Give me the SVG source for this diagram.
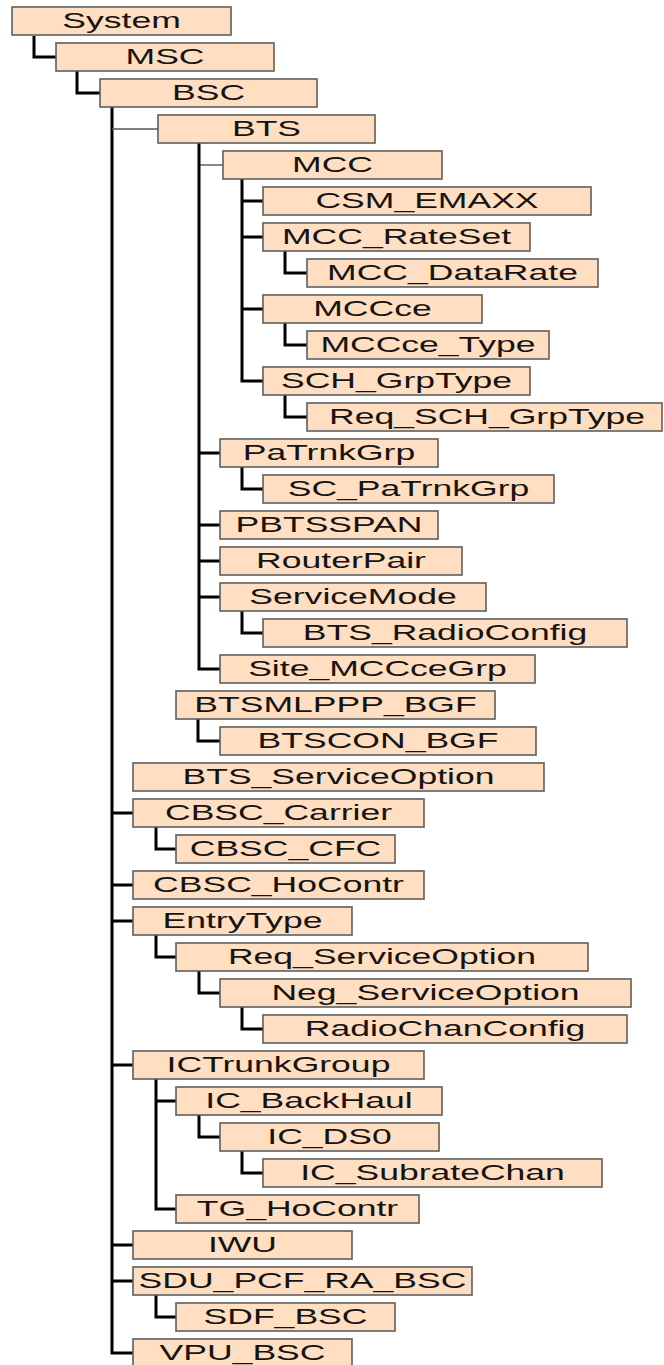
<svg xmlns="http://www.w3.org/2000/svg" width="664" height="1365" viewBox="0 0 664 1365">
  <style>
    .box rect { fill: #FFDEC1; stroke: #5e5e5e; stroke-width: 1.6; }
    .box text { font-family: "Liberation Sans", Arial, sans-serif; font-size: 22.5px; fill: #141414; text-anchor: middle; }
    .k { fill: none; stroke: #000; stroke-width: 3; stroke-linejoin: miter; stroke-linecap: butt; }
    .t { fill: none; stroke: #555; stroke-width: 1.4; }
  </style>
  <rect width="664" height="1365" fill="#fff"/>

  <!-- tree connectors -->
  <g id="connectors">
    <path class="k" d="M34,36 V57 H56"/>
    <path class="k" d="M77,71 V93 H100"/>
    <path class="k" d="M112,107 V1353 H133 M112,813 H133 M112,885 H133 M112,921 H133 M112,1065 H133 M112,1245 H133 M112,1281 H133"/>
    <path class="t" d="M112,129 H158"/>
    <path class="t" d="M199,165 H223"/>
    <path class="k" d="M199,143 V669 H220 M199,453 H220 M199,525 H220 M199,561 H220 M199,597 H220"/>
    <path class="k" d="M242,179 V381 H263 M242,201 H263 M242,237 H263 M242,309 H263"/>
    <path class="k" d="M285,251 V273 H307"/>
    <path class="k" d="M285,323 V345 H307"/>
    <path class="k" d="M285,395 V417 H307"/>
    <path class="k" d="M242,467 V489 H263"/>
    <path class="k" d="M242,611 V633 H263"/>
    <path class="k" d="M198,719 V741 H220"/>
    <path class="k" d="M156,827 V849 H176"/>
    <path class="k" d="M156,935 V957 H176"/>
    <path class="k" d="M199,971 V993 H220"/>
    <path class="k" d="M242,1007 V1029 H263"/>
    <path class="k" d="M156,1079 V1209 H176 M156,1101 H176"/>
    <path class="k" d="M199,1115 V1137 H220"/>
    <path class="k" d="M242,1151 V1173 H263"/>
    <path class="k" d="M156,1295 V1317 H176"/>
  </g>

  <!-- nodes: each row is 36px apart, boxes 28px tall -->
  <g id="System" class="box"><rect x="12" y="7" width="219" height="28"/><text transform="translate(121.5,28.3) scale(1.58,1)">System</text></g>
  <g id="MSC" class="box"><rect x="56" y="43" width="218" height="28"/><text transform="translate(165,64.3) scale(1.58,1)">MSC</text></g>
  <g id="BSC" class="box"><rect x="100" y="79" width="217" height="28"/><text transform="translate(208.5,100.3) scale(1.58,1)">BSC</text></g>
  <g id="BTS" class="box"><rect x="158" y="115" width="217" height="28"/><text transform="translate(266.5,136.3) scale(1.58,1)">BTS</text></g>
  <g id="MCC" class="box"><rect x="223" y="151" width="219" height="28"/><text transform="translate(332.5,172.3) scale(1.58,1)">MCC</text></g>
  <g id="CSM_EMAXX" class="box"><rect x="263" y="187" width="328" height="28"/><text transform="translate(427,208.3) scale(1.58,1)">CSM_EMAXX</text></g>
  <g id="MCC_RateSet" class="box"><rect x="263" y="223" width="267" height="28"/><text transform="translate(396.5,244.3) scale(1.58,1)">MCC_RateSet</text></g>
  <g id="MCC_DataRate" class="box"><rect x="307" y="259" width="291" height="28"/><text transform="translate(452.5,280.3) scale(1.58,1)">MCC_DataRate</text></g>
  <g id="MCCce" class="box"><rect x="263" y="295" width="219" height="28"/><text transform="translate(372.5,316.3) scale(1.58,1)">MCCce</text></g>
  <g id="MCCce_Type" class="box"><rect x="307" y="331" width="242" height="28"/><text transform="translate(428,352.3) scale(1.58,1)">MCCce_Type</text></g>
  <g id="SCH_GrpType" class="box"><rect x="263" y="367" width="267" height="28"/><text transform="translate(396.5,388.3) scale(1.58,1)">SCH_GrpType</text></g>
  <g id="Req_SCH_GrpType" class="box"><rect x="307" y="403" width="355" height="28"/><text transform="translate(487,424.3) scale(1.58,1)">Req_SCH_GrpType</text></g>
  <g id="PaTrnkGrp" class="box"><rect x="220" y="439" width="218" height="28"/><text transform="translate(329,460.3) scale(1.58,1)">PaTrnkGrp</text></g>
  <g id="SC_PaTrnkGrp" class="box"><rect x="263" y="475" width="291" height="28"/><text transform="translate(408.5,496.3) scale(1.58,1)">SC_PaTrnkGrp</text></g>
  <g id="PBTSSPAN" class="box"><rect x="220" y="511" width="218" height="28"/><text transform="translate(329,532.3) scale(1.58,1)">PBTSSPAN</text></g>
  <g id="RouterPair" class="box"><rect x="220" y="547" width="242" height="28"/><text transform="translate(341,568.3) scale(1.58,1)">RouterPair</text></g>
  <g id="ServiceMode" class="box"><rect x="220" y="583" width="266" height="28"/><text transform="translate(353,604.3) scale(1.58,1)">ServiceMode</text></g>
  <g id="BTS_RadioConfig" class="box"><rect x="263" y="619" width="364" height="28"/><text transform="translate(445,640.3) scale(1.58,1)">BTS_RadioConfig</text></g>
  <g id="Site_MCCceGrp" class="box"><rect x="220" y="655" width="315" height="28"/><text transform="translate(377.5,676.3) scale(1.58,1)">Site_MCCceGrp</text></g>
  <g id="BTSMLPPP_BGF" class="box"><rect x="176" y="691" width="319" height="28"/><text transform="translate(335.5,712.3) scale(1.58,1)">BTSMLPPP_BGF</text></g>
  <g id="BTSCON_BGF" class="box"><rect x="220" y="727" width="316" height="28"/><text transform="translate(378,748.3) scale(1.58,1)">BTSCON_BGF</text></g>
  <g id="BTS_ServiceOption" class="box"><rect x="133" y="763" width="411" height="28"/><text transform="translate(338.5,784.3) scale(1.58,1)">BTS_ServiceOption</text></g>
  <g id="CBSC_Carrier" class="box"><rect x="133" y="799" width="291" height="28"/><text transform="translate(278.5,820.3) scale(1.58,1)">CBSC_Carrier</text></g>
  <g id="CBSC_CFC" class="box"><rect x="176" y="835" width="219" height="28"/><text transform="translate(285.5,856.3) scale(1.58,1)">CBSC_CFC</text></g>
  <g id="CBSC_HoContr" class="box"><rect x="133" y="871" width="291" height="28"/><text transform="translate(278.5,892.3) scale(1.58,1)">CBSC_HoContr</text></g>
  <g id="EntryType" class="box"><rect x="133" y="907" width="219" height="28"/><text transform="translate(242.5,928.3) scale(1.58,1)">EntryType</text></g>
  <g id="Req_ServiceOption" class="box"><rect x="176" y="943" width="412" height="28"/><text transform="translate(382,964.3) scale(1.58,1)">Req_ServiceOption</text></g>
  <g id="Neg_ServiceOption" class="box"><rect x="220" y="979" width="411" height="28"/><text transform="translate(425.5,1000.3) scale(1.58,1)">Neg_ServiceOption</text></g>
  <g id="RadioChanConfig" class="box"><rect x="263" y="1015" width="364" height="28"/><text transform="translate(445,1036.3) scale(1.58,1)">RadioChanConfig</text></g>
  <g id="ICTrunkGroup" class="box"><rect x="133" y="1051" width="291" height="28"/><text transform="translate(278.5,1072.3) scale(1.58,1)">ICTrunkGroup</text></g>
  <g id="IC_BackHaul" class="box"><rect x="176" y="1087" width="266" height="28"/><text transform="translate(309,1108.3) scale(1.58,1)">IC_BackHaul</text></g>
  <g id="IC_DS0" class="box"><rect x="220" y="1123" width="219" height="28"/><text transform="translate(329.5,1144.3) scale(1.58,1)">IC_DS0</text></g>
  <g id="IC_SubrateChan" class="box"><rect x="263" y="1159" width="339" height="28"/><text transform="translate(432.5,1180.3) scale(1.58,1)">IC_SubrateChan</text></g>
  <g id="TG_HoContr" class="box"><rect x="176" y="1195" width="243" height="28"/><text transform="translate(297.5,1216.3) scale(1.58,1)">TG_HoContr</text></g>
  <g id="IWU" class="box"><rect x="133" y="1231" width="219" height="28"/><text transform="translate(242.5,1252.3) scale(1.58,1)">IWU</text></g>
  <g id="SDU_PCF_RA_BSC" class="box"><rect x="133" y="1267" width="339" height="28"/><text transform="translate(302.5,1288.3) scale(1.58,1)">SDU_PCF_RA_BSC</text></g>
  <g id="SDF_BSC" class="box"><rect x="176" y="1303" width="219" height="28"/><text transform="translate(285.5,1324.3) scale(1.58,1)">SDF_BSC</text></g>
  <g id="VPU_BSC" class="box"><rect x="133" y="1339" width="219" height="28"/><text transform="translate(242.5,1360.3) scale(1.58,1)">VPU_BSC</text></g>
</svg>
